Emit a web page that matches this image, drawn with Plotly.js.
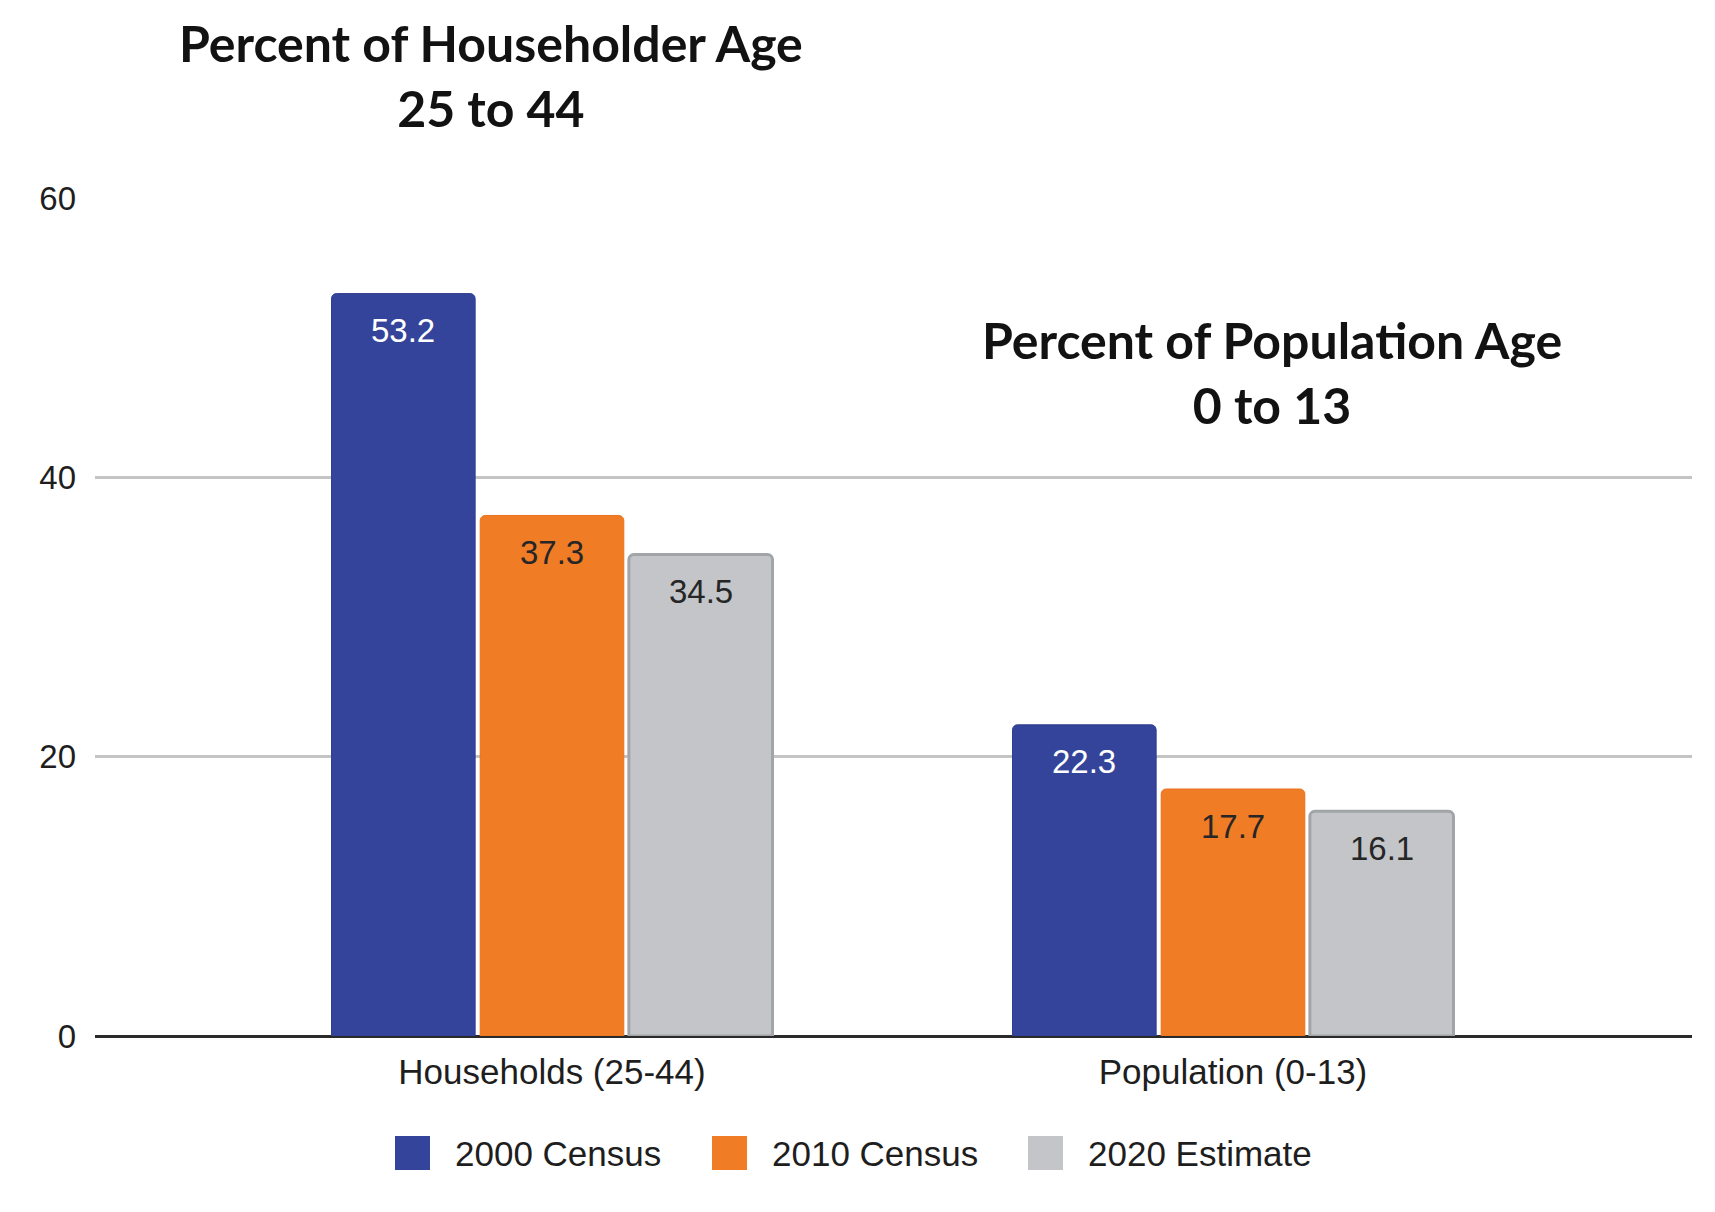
<!DOCTYPE html>
<html>
<head>
<meta charset="utf-8">
<script src="https://cdn.plot.ly/plotly-3.0.1.min.js"></script>
<style>html,body{margin:0;padding:0;background:#fff;}#chart{width:1715px;height:1212px;}</style>
</head>
<body>
<div id="chart"></div>
<script>
// ---- data ----
const categories = ['Households (25-44)', 'Population (0-13)'];
const seriesNames = ['2000 Census', '2010 Census', '2020 Estimate'];
const census2000 = [53.2, 22.3];
const census2010 = [37.3, 17.7];
const estimate2020 = [34.5, 16.1];
const yTickValues = [0, 20, 40, 60];
const panelTitles = ['Percent of Householder Age<br>25 to 44', 'Percent of Population Age<br>0 to 13'];

// ---- styles ----
const seriesValues = [census2000, census2010, estimate2020];
const fillColors = ['#34449a', '#f07c26', '#c3c5c8'];
const lineColors = ['#2f3e90', '#e8721e', '#a2a5a8'];
const lineWidths = [1, 1, 3];
const labelColors = ['#ffffff', '#262626', '#262626'];

const W = 1715, H = 1212;
const ML = 95, MR = 23, MT = 198, MB = 176;
const PW = W - ML - MR, PH = H - MT - MB;
const px2x = p => (p - ML) / PW;
const py2y = p => (H - MB - p) / PH;

const BARGAP = 0.345, GROUPGAP = 0.034;
const slot = (1 - BARGAP) / seriesNames.length;
const catIdx = categories.map((_, i) => i);

const traces = seriesNames.map((name, i) => ({
  type: 'bar',
  name: name,
  x: catIdx,
  y: seriesValues[i],
  marker: {color: fillColors[i], line: {color: lineColors[i], width: lineWidths[i]}, cornerradius: 5},
  textposition: 'none',
  hoverinfo: 'x+y+name',
  showlegend: false
}));

const annotations = [];
// bar value labels
seriesNames.forEach((name, i) => {
  seriesValues[i].forEach((v, c) => {
    annotations.push({
      x: c + (i - (seriesNames.length - 1) / 2) * slot,
      y: v, xref: 'x', yref: 'y',
      text: v.toFixed(1), showarrow: false,
      yshift: -37, yanchor: 'middle', xanchor: 'center',
      font: {family: 'Liberation Sans, Arial, sans-serif', size: 33, color: labelColors[i]}
    });
  });
});
// panel titles
const titlePos = [[491, 76], [1272, 372]];
panelTitles.forEach((t, i) => {
  annotations.push({
    x: px2x(titlePos[i][0]), y: py2y(titlePos[i][1]), xref: 'paper', yref: 'paper',
    text: '<b>' + t + '</b>', showarrow: false, xanchor: 'center', yanchor: 'middle',
    align: 'center',
    font: {family: 'Lato, Carlito, Calibri, sans-serif', size: 50, color: '#121212'}
  });
});
// custom legend
const legendLeft = [395, 712, 1028];
const legendY = 1153;
const shapes = [];
seriesNames.forEach((name, i) => {
  shapes.push({
    type: 'rect', xref: 'paper', yref: 'paper',
    x0: px2x(legendLeft[i]), x1: px2x(legendLeft[i] + 35),
    y0: py2y(legendY + 17), y1: py2y(legendY - 17),
    fillcolor: fillColors[i], line: {width: 0}
  });
  annotations.push({
    x: px2x(legendLeft[i] + 58), y: py2y(legendY), xref: 'paper', yref: 'paper',
    text: name, showarrow: false, xanchor: 'left', yanchor: 'middle',
    font: {family: 'Liberation Sans, Arial, sans-serif', size: 35, color: '#1e1e1e'}
  });
});

const layout = {
  width: W, height: H,
  margin: {l: ML, r: MR, t: MT, b: MB, pad: 0},
  paper_bgcolor: '#ffffff', plot_bgcolor: '#ffffff',
  barmode: 'group', bargap: BARGAP, bargroupgap: GROUPGAP,
  showlegend: false,
  font: {family: 'Liberation Sans, Arial, sans-serif', color: '#222'},
  xaxis: {
    type: 'linear',
    range: [-(552 - ML) / 681, (W - MR - 552) / 681],
    tickmode: 'array', tickvals: catIdx, ticktext: categories,
    showgrid: false, zeroline: false, showline: false, ticks: '',
    tickfont: {size: 35, color: '#1e1e1e'},
    ticklabelstandoff: 12
  },
  yaxis: {
    range: [0, 60.05],
    tickmode: 'array', tickvals: yTickValues,
    showgrid: true, gridcolor: '#c4c4c4', gridwidth: 3,
    zeroline: true, zerolinecolor: '#2a2a2a', zerolinewidth: 3,
    showline: false, ticks: '',
    tickfont: {size: 33, color: '#1e1e1e'},
    ticklabelstandoff: 18
  },
  annotations: annotations,
  shapes: shapes
};

Plotly.newPlot('chart', traces, layout, {displayModeBar: false, staticPlot: true});
</script>
</body>
</html>
